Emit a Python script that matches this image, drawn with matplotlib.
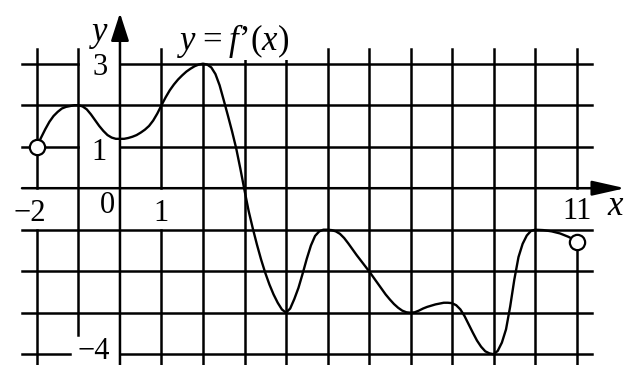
import matplotlib
matplotlib.use("Agg")
import matplotlib.pyplot as plt

# curve y = f'(x)
x_vals = [-2.0, -1.9, -1.8, -1.7, -1.6, -1.5, -1.4, -1.3, -1.2, -1.1,
          -1.0, -0.9, -0.8, -0.7, -0.6, -0.5, -0.4, -0.3, -0.2, -0.1,
          0.0, 0.1, 0.2, 0.3, 0.4, 0.5, 0.6, 0.7, 0.8, 0.9,
          1.0, 1.1, 1.2, 1.3, 1.4, 1.5, 1.6, 1.7, 1.8, 1.9,
          2.0, 2.1, 2.2, 2.3, 2.4, 2.5, 2.6, 2.7, 2.8, 2.9,
          3.0, 3.1, 3.2, 3.3, 3.4, 3.5, 3.6, 3.7, 3.8, 3.9,
          4.0, 4.1, 4.2, 4.3, 4.4, 4.5, 4.6, 4.7, 4.8, 4.9,
          5.0, 5.1, 5.2, 5.3, 5.4, 5.5, 5.6, 5.7, 5.8, 5.9,
          6.0, 6.1, 6.2, 6.3, 6.4, 6.5, 6.6, 6.7, 6.8, 6.9,
          7.0, 7.1, 7.2, 7.3, 7.4, 7.5, 7.6, 7.7, 7.8, 7.9,
          8.0, 8.1, 8.2, 8.3, 8.4, 8.5, 8.6, 8.7, 8.8, 8.9,
          9.0, 9.1, 9.2, 9.3, 9.4, 9.5, 9.6, 9.7, 9.8, 9.9,
          10.0, 10.2, 10.4, 10.6, 10.8, 10.9, 11.0]
y_vals = [1.0, 1.22, 1.42, 1.6, 1.74, 1.84, 1.92, 1.96, 1.98, 2.0,
          2.0, 1.97, 1.9, 1.78, 1.64, 1.5, 1.38, 1.28, 1.22, 1.19,
          1.19, 1.19, 1.21, 1.24, 1.28, 1.34, 1.41, 1.5, 1.63, 1.8,
          2.0, 2.19, 2.36, 2.5, 2.62, 2.72, 2.81, 2.88, 2.94, 2.98,
          3.0, 2.98, 2.91, 2.75, 2.48, 2.12, 1.75, 1.37, 0.96, 0.47,
          -0.05, -0.55, -0.97, -1.36, -1.72, -2.04, -2.32, -2.56, -2.76, -2.92,
          -3.0, -2.9, -2.67, -2.4, -2.06, -1.7, -1.38, -1.15, -1.04, -1.0,
          -1.0, -1.01, -1.04, -1.1, -1.2, -1.33, -1.47, -1.61, -1.74, -1.87,
          -2.0, -2.14, -2.28, -2.42, -2.56, -2.68, -2.79, -2.88, -2.95, -2.99,
          -3.0, -2.99, -2.95, -2.9, -2.86, -2.83, -2.8, -2.78, -2.76, -2.76,
          -2.77, -2.82, -2.92, -3.08, -3.28, -3.48, -3.67, -3.82, -3.93, -3.98,
          -4.0, -3.92, -3.72, -3.4, -2.85, -2.2, -1.66, -1.34, -1.14, -1.03,
          -1.0, -1.01, -1.04, -1.09, -1.17, -1.22, -1.3]

open_x = [-2, 11]
open_y = [1.0, -1.3]

grid_x = [-2, -1, 1, 2, 3, 4, 5, 6, 7, 8, 9, 10, 11]
grid_y = [-4, -3, -2, -1, 1, 2, 3]

plt.rcParams['font.family'] = ['Liberation Serif', 'DejaVu Serif']
plt.rcParams['mathtext.fontset'] = 'custom'
plt.rcParams['mathtext.rm'] = 'Liberation Serif'
plt.rcParams['mathtext.it'] = 'Liberation Serif:italic'

fig = plt.figure(figsize=(6.26, 3.65), dpi=100)
ax = fig.add_axes([0, 0, 1, 1])
ax.set_xlim(-2.89, 12.19)
ax.set_ylim(-4.26, 4.535)
ax.axis('off')

lw = 1.8
# grid lines are broken where the labels sit
v_breaks = {-2: [(-4.5, -1), (0, 3.36)], 1: [(-4.5, -1), (0, 3.36)],
            11: [(-4.5, -1.3), (0, 3.36)], -1: [(-3.54, 3.36)], 2: [(-4.5, 3.0)]}
h_breaks = {-4: [(-2.36, -1.2), (0, 11.37)], 1: [(-2.36, -1), (0, 11.37)],
            3: [(-2.36, -1), (0, 11.37)]}
for gx in grid_x:
    for y0, y1 in v_breaks.get(gx, [(-4.5, 3.36)]):
        ax.plot([gx, gx], [y0, y1], color='black', lw=lw, zorder=1)
for gy in grid_y:
    for x0, x1 in h_breaks.get(gy, [(-2.36, 11.37)]):
        ax.plot([x0, x1], [gy, gy], color='black', lw=lw, zorder=1)

# axes with arrows
ax.annotate('', xy=(12.17, 0), xytext=(-2.36, 0),
            arrowprops=dict(arrowstyle='-|>,head_length=2.0,head_width=0.45',
                            mutation_scale=10, lw=lw, color='black',
                            shrinkA=0, shrinkB=0), zorder=2)
ax.annotate('', xy=(0, 4.22), xytext=(0, -4.5),
            arrowprops=dict(arrowstyle='-|>,head_length=1.7,head_width=0.55',
                            mutation_scale=10, lw=lw, color='black',
                            shrinkA=0, shrinkB=0), zorder=2)

fs = 22
ax.text(-0.48, 2.92, '3', fontsize=fs, ha='center', va='center', zorder=3)
ax.text(-0.5, 0.85, '1', fontsize=fs, ha='center', va='center', zorder=3)
ax.text(-2.17, -0.6, '\u22122', fontsize=fs, ha='center', va='center', zorder=3)
ax.text(-0.3, -0.42, '0', fontsize=fs, ha='center', va='center', zorder=3)
ax.text(1.0, -0.6, '1', fontsize=fs, ha='center', va='center', zorder=3)
ax.text(-0.64, -3.93, '\u22124', fontsize=fs, ha='center', va='center', zorder=3)
ax.text(11.0, -0.55, '11', fontsize=fs, ha='center', va='center', zorder=3)
ax.text(11.93, -0.45, 'x', fontsize=25, style='italic', ha='center', va='center', zorder=3)
ax.text(-0.5, 3.75, 'y', fontsize=25, style='italic', ha='center', va='center', zorder=3)
ax.text(2.72, 3.55, "$y$\u2009=\u2009$f$\u2019($x$)", fontsize=25, ha='center', va='center',
        bbox=dict(facecolor='white', edgecolor='none', pad=0), zorder=3)

ax.plot(x_vals, y_vals, color='black', lw=1.7, zorder=4, solid_capstyle='round')
ax.plot(open_x, open_y, 'o', ms=11, mfc='white', mec='black', mew=1.6, zorder=5)

fig.savefig('out.png', dpi=100)
